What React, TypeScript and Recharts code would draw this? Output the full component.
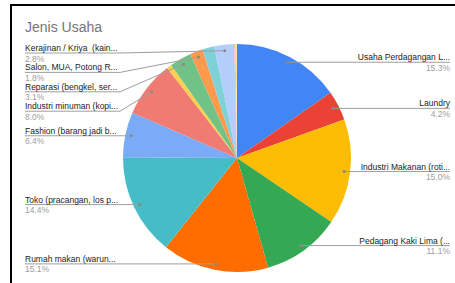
import React from "react";
import { Cell, Pie, PieChart } from "recharts";

const categories = [
  "Usaha Perdagangan L...",
  "Laundry",
  "Industri Makanan (roti...",
  "Pedagang Kaki Lima (...",
  "Rumah makan (warun...",
  "Toko (pracangan, los p...",
  "Fashion (barang jadi b...",
  "Industri minuman (kopi...",
  "Lainnya (a)",
  "Reparasi (bengkel, ser...",
  "Salon, MUA, Potong R...",
  "Lainnya (b)",
  "Kerajinan / Kriya  (kain...",
  "Lainnya (c)",
  "Lainnya (d)",
];
const values = [15.3, 4.2, 15.0, 11.1, 15.1, 14.4, 6.4, 8.0, 0.7, 3.1, 1.8, 1.7, 2.8, 0.2, 0.2];
const labelled = [true, true, true, true, true, true, true, true, false, true, true, false, true, false, false];
const colors = [
  "#4285f4", "#ea4335", "#fbbc04", "#34a853", "#ff6d01", "#46bdc6", "#7baaf7", "#f07b72",
  "#fcd04f", "#71c287", "#ff994d", "#7ed1d7", "#b3cefb", "#f7b4ae", "#fde49b",
];

const data = categories.map((name, i) => ({ name, value: values[i] }));

const W = 455;
const H = 283;
const CX = 237;
const CY = 158;
const R = 114;
const DOT_R = 108;
const RAD = Math.PI / 180;
const FONT = "'Liberation Sans', Arial, sans-serif";

// label line heights: Sheets stacks crowded labels downward on each side
const total = values.reduce((a, b) => a + b, 0);
let cum = 0;
const anchors = values.map((v) => {
  const a = ((cum + v / 2) / total) * 360;
  cum += v;
  return { a, y: CY - DOT_R * Math.cos(a * RAD) };
});
const lineY: number[] = anchors.map((p) => p.y);
for (const side of [0, 1]) {
  const idx = anchors
    .map((p, i) => i)
    .filter((i) => labelled[i] && (side === 0 ? anchors[i].a < 180 : anchors[i].a >= 180))
    .sort((a, b) => anchors[a].y - anchors[b].y);
  let prev = side === 1 ? 53 - 19.4 : -Infinity;
  for (const i of idx) {
    lineY[i] = Math.max(anchors[i].y, prev + 19.4);
    prev = lineY[i];
  }
}

function renderLabel(props: any) {
  const { cx, cy, midAngle, index, percent, name } = props;
  if (!labelled[index]) return null;
  const px = cx + DOT_R * Math.cos(-midAngle * RAD);
  const py = cy + DOT_R * Math.sin(-midAngle * RAD);
  const ly = lineY[index];
  const right = px > cx;
  const pct = `${(percent * 100).toFixed(1)}%`;
  if (right) {
    return (
      <g>
        <polyline points={`450,${ly} ${px},${py}`} fill="none" stroke="#9e9e9e" strokeWidth={1} />
        <circle cx={px} cy={py} r={1.5} fill="#888" />
        <text x={450} y={ly - 2} textAnchor="end" fontSize={8.5} fill="#222" fontFamily={FONT}>
          {name}
        </text>
        <text x={450} y={ly + 8.5} textAnchor="end" fontSize={8.5} fill="#9e9e9e" fontFamily={FONT}>
          {pct}
        </text>
      </g>
    );
  }
  return (
    <g>
      <polyline points={`25,${ly} 120,${ly} ${px},${py}`} fill="none" stroke="#9e9e9e" strokeWidth={1} />
      <circle cx={px} cy={py} r={1.5} fill="#888" />
      <text x={25} y={ly - 2} textAnchor="start" fontSize={8.5} fill="#222" fontFamily={FONT} style={{ whiteSpace: "pre" }}>
        {name}
      </text>
      <text x={25} y={ly + 8.5} textAnchor="start" fontSize={8.5} fill="#9e9e9e" fontFamily={FONT}>
        {pct}
      </text>
    </g>
  );
}

export default function App() {
  return (
    <div style={{ position: "fixed", left: 0, top: 0, width: W, height: H, background: "#fff" }}>
      <div
        style={{
          position: "absolute",
          left: 10,
          top: 4,
          right: 0,
          bottom: 0,
          borderTop: "2px solid #000",
          borderLeft: "2px solid #000",
        }}
      />
      <PieChart width={W} height={H} margin={{ top: 0, right: 0, bottom: 0, left: 0 }}>
        <text x={25} y={32} fontSize={14} fill="#757575" fontFamily={FONT}>
          Jenis Usaha
        </text>
        <Pie
          data={data}
          dataKey="value"
          nameKey="name"
          cx={CX}
          cy={CY}
          outerRadius={R}
          startAngle={90}
          endAngle={-270}
          stroke="none"
          label={renderLabel}
          labelLine={false}
          isAnimationActive={false}
        >
          {data.map((d, i) => (
            <Cell key={d.name} fill={colors[i]} />
          ))}
        </Pie>
      </PieChart>
    </div>
  );
}
